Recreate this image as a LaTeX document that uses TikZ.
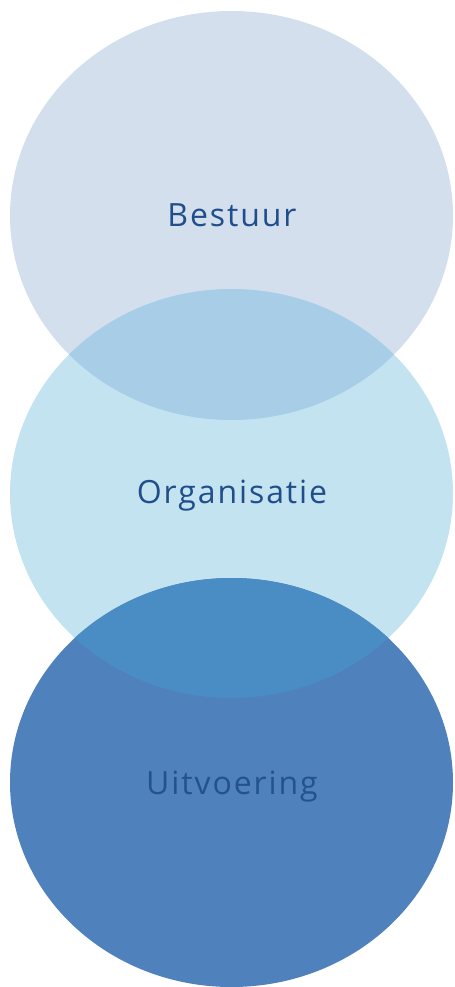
\documentclass[tikz,border=0pt]{standalone}
\usepackage{fontspec}
\setmainfont{Open Sans}[LetterSpace=6]
\definecolor{bestuurfill}{HTML}{D3DFED}
\definecolor{organisatiefill}{HTML}{C3E3F0}
\definecolor{uitvoeringfill}{HTML}{4F81BD}
\definecolor{overlaptop}{HTML}{A8CDE6}
\definecolor{overlapbottom}{HTML}{4A8DC4}
\definecolor{labeltext}{HTML}{1F4E8A}
\definecolor{labeldark}{HTML}{24528C}
\tikzset{every picture/.style={line width=0.75pt}}
\tikzset{label text/.style={anchor=base, inner sep=0.75pt, font=\fontsize{24}{28}\selectfont, text=labeltext}}
\begin{document}
\begin{tikzpicture}[x=0.75pt,y=0.75pt,yscale=-1,xscale=1]
\useasboundingbox (0,0) rectangle (454,987);

%Shape: Ellipse [top]
\fill [bestuurfill] (231.5,215.5) ellipse (221.5 and 204.5);
%Shape: Ellipse [middle]
\fill [organisatiefill] (231.5,493.5) ellipse (221.5 and 204.5);
%Shape: Ellipse [bottom]
\fill [uitvoeringfill] (231.5,782.5) ellipse (221.5 and 204.5);

%Shape: Overlap top and middle
\begin{scope}
\clip (231.5,215.5) ellipse (221.5 and 204.5);
\fill [overlaptop] (231.5,493.5) ellipse (221.5 and 204.5);
\end{scope}
%Shape: Overlap middle and bottom
\begin{scope}
\clip (231.5,493.5) ellipse (221.5 and 204.5);
\fill [overlapbottom] (231.5,782.5) ellipse (221.5 and 204.5);
\end{scope}

% Text Node
\node (bestuur) at (232,227) [label text] {Bestuur};
% Text Node
\node (organisatie) at (232,503) [label text] {Organisatie};
% Text Node
\node (uitvoering) at (232,794) [label text, text=labeldark] {Uitvoering};

\end{tikzpicture}
\end{document}
